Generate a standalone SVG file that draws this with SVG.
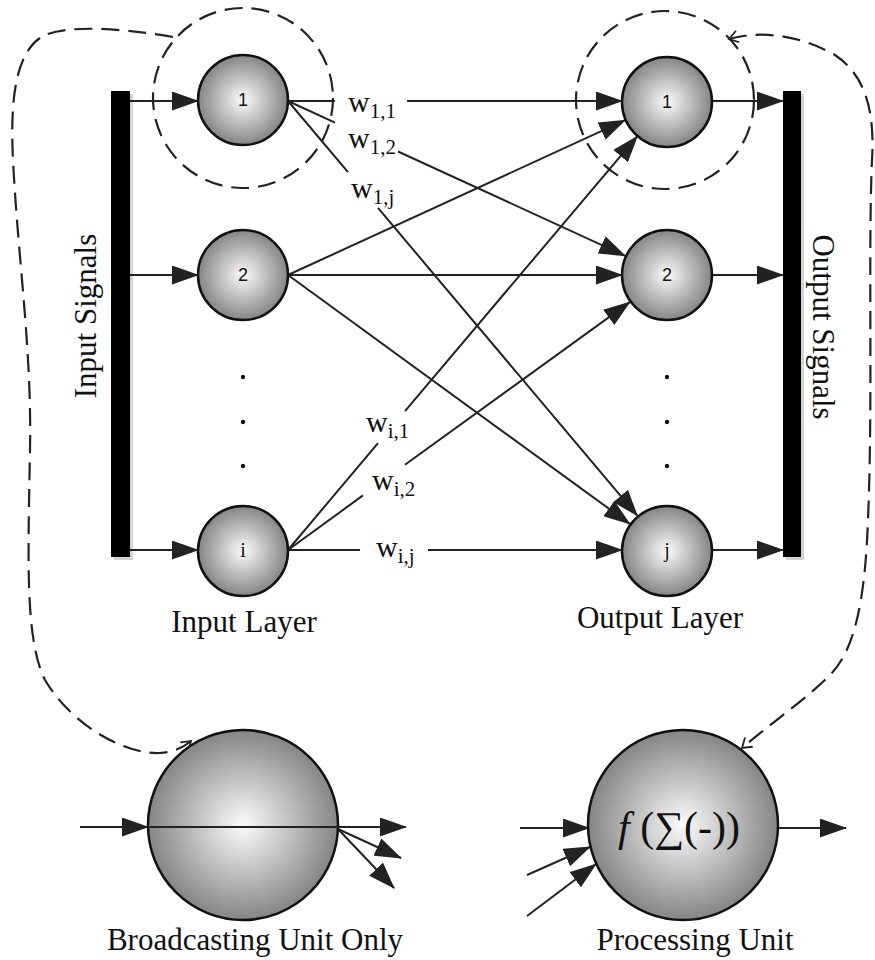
<svg xmlns="http://www.w3.org/2000/svg" width="875" height="960" viewBox="0 0 875 960">
  <defs>
    <radialGradient id="ball" cx="50%" cy="50%" r="50%">
      <stop offset="0%" stop-color="#fbfbfb"/>
      <stop offset="100%" stop-color="#858585"/>
    </radialGradient>
    <marker id="arr" markerWidth="27" markerHeight="19" refX="26" refY="9.5" orient="auto" markerUnits="userSpaceOnUse">
      <path d="M0,0 L27,9.5 L0,19 z" fill="#222"/>
    </marker>
    <marker id="open" markerWidth="14" markerHeight="14" refX="11" refY="7" orient="auto-start-reverse" markerUnits="userSpaceOnUse">
      <path d="M2,1 L11,7 L2,13" fill="none" stroke="#222" stroke-width="1.8"/>
    </marker>
    <style>
      .node { fill: url(#ball); stroke: #111; stroke-width: 2.5; }
      .edge { fill: none; stroke: #222; stroke-width: 2; marker-end: url(#arr); }
      .plain { fill: none; stroke: #222; stroke-width: 2; }
      .dash { fill: none; stroke: #222; stroke-width: 2.2; stroke-dasharray: 18 9; }
      .num { font-family: "Liberation Sans", Arial, sans-serif; font-size: 18px; fill: #111; text-anchor: middle; }
      .numi { font-family: "Liberation Serif", "Times New Roman", serif; font-size: 20px; fill: #111; text-anchor: middle; }
      .lbl { font-family: "Liberation Serif", "Times New Roman", serif; font-size: 31px; fill: #111; }
      .w { font-family: "Liberation Serif", "Times New Roman", serif; font-size: 30px; fill: #111; }
      .sub { font-size: 21px; }
      .fx { font-family: "Liberation Serif", "DejaVu Serif", serif; font-size: 42px; fill: #111; text-anchor: middle; }
      .dot { fill: #111; }
    </style>
  </defs>
  <rect width="875" height="960" fill="#ffffff"/>

  <!-- signal bars -->
  <g id="input-bar">
    <rect x="114" y="94" width="19" height="466" fill="#d4d4d4"/>
    <rect x="111" y="91" width="19" height="466" fill="#000"/>
    <text class="lbl" text-anchor="middle" transform="translate(96,316) rotate(-90)">Input Signals</text>
  </g>
  <g id="output-bar">
    <rect x="786" y="94" width="18" height="466" fill="#d4d4d4"/>
    <rect x="783" y="91" width="18" height="466" fill="#000"/>
    <text class="lbl" text-anchor="middle" transform="translate(813,327) rotate(90)">Output Signals</text>
  </g>

  <!-- dashed highlight rings and feedback loops -->
  <g id="highlights">
    <circle class="dash" cx="243" cy="98" r="90"/>
    <circle class="dash" cx="665" cy="100" r="89"/>
    <path class="dash" marker-end="url(#open)" d="M173,37 C120,28 70,25 45,35 C15,50 10,100 13,160 C18,260 32,350 30,450 C28,560 25,640 45,680 C75,730 130,755 160,753 C175,752 184,747 191,741"/>
    <path class="dash" marker-start="url(#open)" marker-end="url(#open)" d="M729,39 C760,30 800,35 835,55 C865,75 875,110 872,160 C868,250 873,400 868,520 C865,600 855,650 830,675 C805,700 775,720 742,748"/>
  </g>

  <!-- connectors -->
  <g id="connectors">
    <!-- bar to input nodes -->
    <path class="edge" d="M130,101 L198,101"/>
    <path class="edge" d="M130,275 L198,275"/>
    <path class="edge" d="M130,550 L198,550"/>
    <!-- weights from input 1 -->
    <path class="edge" d="M288,101 L335,101 M407,101 L622,101"/>
    <path class="edge" d="M288,101 L335,122.6 M398,151.5 L625.2,255.8"/>
    <path class="edge" d="M288,101 L348,172.2 M378,207.9 L637.4,515.8"/>
    <!-- weights from input 2 -->
    <path class="edge" d="M288,275 L625.2,120.2"/>
    <path class="edge" d="M288,275 L622,275"/>
    <path class="edge" d="M288,275 L629.8,523.9"/>
    <!-- weights from input i -->
    <path class="edge" d="M288,550 L378,443.1 M405,411.1 L637.4,136.2"/>
    <path class="edge" d="M288,550 L363,495.4 M405,464.8 L629.8,302.1"/>
    <path class="edge" d="M288,550 L360,550 M428,550 L622,550"/>
    <!-- output nodes to bar -->
    <path class="edge" d="M712,101 L783,101"/>
    <path class="edge" d="M712,275 L783,275"/>
    <path class="edge" d="M712,550 L783,550"/>
    <!-- broadcasting unit -->
    <path class="edge" d="M80,827 L148,827"/>
    <path class="edge" d="M338,827 L406,827"/>
    <path class="edge" d="M338,829 L401,858"/>
    <path class="edge" d="M338,829 L394,888"/>
    <!-- processing unit -->
    <path class="edge" d="M520,828 L589,828"/>
    <path class="edge" d="M527,875 L590,847"/>
    <path class="edge" d="M527,916 L596,864"/>
    <path class="edge" d="M778,828 L846,828"/>
  </g>

  <!-- weight labels -->
  <g id="weights">
    <text class="w" x="348" y="112">w<tspan class="sub" dy="6">1,1</tspan></text>
    <text class="w" x="348" y="148">w<tspan class="sub" dy="6">1,2</tspan></text>
    <text class="w" x="351" y="198">w<tspan class="sub" dy="6">1,j</tspan></text>
    <text class="w" x="366" y="432">w<tspan class="sub" dy="6">i,1</tspan></text>
    <text class="w" x="372" y="490">w<tspan class="sub" dy="6">i,2</tspan></text>
    <text class="w" x="376" y="557">w<tspan class="sub" dy="6">i,j</tspan></text>
  </g>

  <!-- input layer -->
  <g id="in-1"><circle class="node" cx="243" cy="100" r="45"/><text class="num" x="243" y="106">1</text></g>
  <g id="in-2"><circle class="node" cx="243" cy="275" r="45"/><text class="num" x="243" y="281">2</text></g>
  <g id="in-dots"><circle class="dot" cx="243" cy="377" r="2.2"/><circle class="dot" cx="243" cy="422" r="2.2"/><circle class="dot" cx="243" cy="466" r="2.2"/></g>
  <g id="in-i"><circle class="node" cx="243" cy="551" r="45"/><text class="numi" x="243" y="557">i</text></g>
  <text class="lbl" x="244" y="632" text-anchor="middle">Input Layer</text>

  <!-- output layer -->
  <g id="out-1"><circle class="node" cx="667" cy="102" r="45"/><text class="num" x="667" y="108">1</text></g>
  <g id="out-2"><circle class="node" cx="667" cy="275" r="45"/><text class="num" x="667" y="281">2</text></g>
  <g id="out-dots"><circle class="dot" cx="667" cy="377" r="2.2"/><circle class="dot" cx="667" cy="422" r="2.2"/><circle class="dot" cx="667" cy="466" r="2.2"/></g>
  <g id="out-j"><circle class="node" cx="667" cy="551" r="45"/><text class="numi" x="667" y="557">j</text></g>
  <text class="lbl" x="660" y="628" text-anchor="middle">Output Layer</text>

  <!-- unit types -->
  <g id="broadcasting-unit">
    <circle class="node" cx="243" cy="825" r="95"/>
    <path class="edge" d="M148,827 L338,827" style="marker-end:none"/>
    <text class="lbl" x="255" y="950" text-anchor="middle">Broadcasting Unit Only</text>
  </g>
  <g id="processing-unit">
    <circle class="node" cx="683" cy="825" r="95"/>
    <text class="fx" x="679" y="841"><tspan font-style="italic">f</tspan> (∑(-))</text>
    <text class="lbl" x="695" y="950" text-anchor="middle">Processing Unit</text>
  </g>
</svg>
